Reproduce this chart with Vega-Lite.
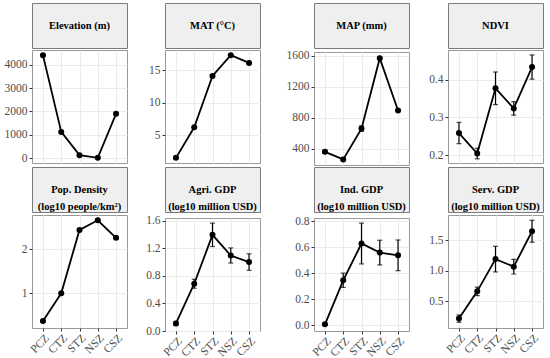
{
  "$schema": "https://vega.github.io/schema/vega-lite/v6.json",
  "padding": {"left": 3, "top": 2, "right": 0, "bottom": 0},
  "background": "white",
  "datasets": {
    "d": [
      {"var": "Elevation", "zone": "PCZ", "v": 4400, "lo": 4380, "hi": 4420},
      {"var": "Elevation", "zone": "CTZ", "v": 1130, "lo": 1110, "hi": 1150},
      {"var": "Elevation", "zone": "STZ", "v": 140, "lo": 125, "hi": 155},
      {"var": "Elevation", "zone": "NSZ", "v": 25, "lo": 15, "hi": 35},
      {"var": "Elevation", "zone": "CSZ", "v": 1900, "lo": 1880, "hi": 1920},
      {"var": "MAT", "zone": "PCZ", "v": 1.5, "lo": 1.4, "hi": 1.6},
      {"var": "MAT", "zone": "CTZ", "v": 6.2, "lo": 6.1, "hi": 6.3},
      {"var": "MAT", "zone": "STZ", "v": 14.1, "lo": 14.0, "hi": 14.2},
      {"var": "MAT", "zone": "NSZ", "v": 17.3, "lo": 17.2, "hi": 17.4},
      {"var": "MAT", "zone": "CSZ", "v": 16.1, "lo": 16.0, "hi": 16.2},
      {"var": "MAP", "zone": "PCZ", "v": 360, "lo": 340, "hi": 380},
      {"var": "MAP", "zone": "CTZ", "v": 262, "lo": 252, "hi": 272},
      {"var": "MAP", "zone": "STZ", "v": 660, "lo": 625, "hi": 695},
      {"var": "MAP", "zone": "NSZ", "v": 1570, "lo": 1555, "hi": 1585},
      {"var": "MAP", "zone": "CSZ", "v": 895, "lo": 883, "hi": 907},
      {"var": "NDVI", "zone": "PCZ", "v": 0.259, "lo": 0.231, "hi": 0.287},
      {"var": "NDVI", "zone": "CTZ", "v": 0.205, "lo": 0.191, "hi": 0.219},
      {"var": "NDVI", "zone": "STZ", "v": 0.377, "lo": 0.334, "hi": 0.42},
      {"var": "NDVI", "zone": "NSZ", "v": 0.324, "lo": 0.306, "hi": 0.342},
      {"var": "NDVI", "zone": "CSZ", "v": 0.433, "lo": 0.401, "hi": 0.465},
      {"var": "Pop", "zone": "PCZ", "v": 0.37, "lo": 0.35, "hi": 0.39},
      {"var": "Pop", "zone": "CTZ", "v": 1.0, "lo": 0.98, "hi": 1.02},
      {"var": "Pop", "zone": "STZ", "v": 2.44, "lo": 2.41, "hi": 2.47},
      {"var": "Pop", "zone": "NSZ", "v": 2.66, "lo": 2.64, "hi": 2.68},
      {"var": "Pop", "zone": "CSZ", "v": 2.26, "lo": 2.23, "hi": 2.29},
      {"var": "Agri", "zone": "PCZ", "v": 0.11, "lo": 0.08, "hi": 0.14},
      {"var": "Agri", "zone": "CTZ", "v": 0.686, "lo": 0.621, "hi": 0.751},
      {"var": "Agri", "zone": "STZ", "v": 1.396, "lo": 1.226, "hi": 1.566},
      {"var": "Agri", "zone": "NSZ", "v": 1.096, "lo": 0.986, "hi": 1.206},
      {"var": "Agri", "zone": "CSZ", "v": 1.0, "lo": 0.88, "hi": 1.12},
      {"var": "Ind", "zone": "PCZ", "v": 0.008, "lo": 0.0, "hi": 0.016},
      {"var": "Ind", "zone": "CTZ", "v": 0.347, "lo": 0.292, "hi": 0.402},
      {"var": "Ind", "zone": "STZ", "v": 0.63, "lo": 0.473, "hi": 0.787},
      {"var": "Ind", "zone": "NSZ", "v": 0.56, "lo": 0.465, "hi": 0.655},
      {"var": "Ind", "zone": "CSZ", "v": 0.539, "lo": 0.421, "hi": 0.657},
      {"var": "Serv", "zone": "PCZ", "v": 0.22, "lo": 0.16, "hi": 0.28},
      {"var": "Serv", "zone": "CTZ", "v": 0.666, "lo": 0.596, "hi": 0.736},
      {"var": "Serv", "zone": "STZ", "v": 1.194, "lo": 0.984, "hi": 1.404},
      {"var": "Serv", "zone": "NSZ", "v": 1.07, "lo": 0.95, "hi": 1.19},
      {"var": "Serv", "zone": "CSZ", "v": 1.65, "lo": 1.47, "hi": 1.83}
    ]
  },
  "columns": 4,
  "align": "each",
  "spacing": {"row": 0, "column": 17},
  "concat": [
    {"spacing": 0, "vconcat": [
      {"width": 95, "height": 45, "view": {"fill": "#efefef", "stroke": "#7a7a7a"}, "data": {"values": [{"t": "Elevation (m)"}]}, "mark": {"type": "text", "font": "Liberation Serif", "fontWeight": "bold", "fontSize": 10.5, "lineBreak": "\n", "lineHeight": 17.6, "color": "black"}, "encoding": {"text": {"field": "t"}}},
      {"width": 95, "height": 113, "view": {"stroke": "#999999"}, "data": {"name": "d"}, "transform": [{"filter": "datum.var === 'Elevation'"}],
       "encoding": {"x": {"field": "zone", "type": "ordinal", "title": null, "scale": {"type": "point", "padding": 0.6, "domain": ["PCZ", "CTZ", "STZ", "NSZ", "CSZ"]}, "axis": {"labels": false, "ticks": false, "domain": false, "grid": true, "labelPadding": 0, "tickSize": 0, "minExtent": 0, "maxExtent": 0}}},
       "layer": [
         {"mark": {"type": "rule", "color": "black", "strokeWidth": 1.2}, "encoding": {"y": {"field": "lo", "type": "quantitative", "title": null, "scale": {"domain": [-194, 4619], "nice": false, "zero": false}, "axis": {"values": [0, 1000, 2000, 3000, 4000], "tickCount": 20, "format": "d", "labelOverlap": false, "minExtent": 28, "maxExtent": 28}}, "y2": {"field": "hi"}}},
         {"mark": {"type": "tick", "color": "black", "size": 5, "thickness": 1.2}, "encoding": {"y": {"field": "lo", "type": "quantitative", "title": null}}},
         {"mark": {"type": "tick", "color": "black", "size": 5, "thickness": 1.2}, "encoding": {"y": {"field": "hi", "type": "quantitative", "title": null}}},
         {"mark": {"type": "line", "color": "black", "strokeWidth": 1.8}, "encoding": {"y": {"field": "v", "type": "quantitative", "title": null}}},
         {"mark": {"type": "point", "filled": true, "color": "black", "opacity": 1, "size": 36}, "encoding": {"y": {"field": "v", "type": "quantitative", "title": null}}}
       ]}
    ]},
    {"spacing": 0, "vconcat": [
      {"width": 95, "height": 45, "view": {"fill": "#efefef", "stroke": "#7a7a7a"}, "data": {"values": [{"t": "MAT (°C)"}]}, "mark": {"type": "text", "font": "Liberation Serif", "fontWeight": "bold", "fontSize": 10.5, "lineBreak": "\n", "lineHeight": 17.6, "color": "black"}, "encoding": {"text": {"field": "t"}}},
      {"width": 95, "height": 113, "view": {"stroke": "#999999"}, "data": {"name": "d"}, "transform": [{"filter": "datum.var === 'MAT'"}],
       "encoding": {"x": {"field": "zone", "type": "ordinal", "title": null, "scale": {"type": "point", "padding": 0.6, "domain": ["PCZ", "CTZ", "STZ", "NSZ", "CSZ"]}, "axis": {"labels": false, "ticks": false, "domain": false, "grid": true, "labelPadding": 0, "tickSize": 0, "minExtent": 0, "maxExtent": 0}}},
       "layer": [
         {"mark": {"type": "rule", "color": "black", "strokeWidth": 1.2}, "encoding": {"y": {"field": "lo", "type": "quantitative", "title": null, "scale": {"domain": [0.71, 18.09], "nice": false, "zero": false}, "axis": {"values": [5, 10, 15], "tickCount": 20, "format": "d", "labelOverlap": false, "minExtent": 19, "maxExtent": 19}}, "y2": {"field": "hi"}}},
         {"mark": {"type": "tick", "color": "black", "size": 5, "thickness": 1.2}, "encoding": {"y": {"field": "lo", "type": "quantitative", "title": null}}},
         {"mark": {"type": "tick", "color": "black", "size": 5, "thickness": 1.2}, "encoding": {"y": {"field": "hi", "type": "quantitative", "title": null}}},
         {"mark": {"type": "line", "color": "black", "strokeWidth": 1.8}, "encoding": {"y": {"field": "v", "type": "quantitative", "title": null}}},
         {"mark": {"type": "point", "filled": true, "color": "black", "opacity": 1, "size": 36}, "encoding": {"y": {"field": "v", "type": "quantitative", "title": null}}}
       ]}
    ]},
    {"spacing": 0, "vconcat": [
      {"width": 95, "height": 45, "view": {"fill": "#efefef", "stroke": "#7a7a7a"}, "data": {"values": [{"t": "MAP (mm)"}]}, "mark": {"type": "text", "font": "Liberation Serif", "fontWeight": "bold", "fontSize": 10.5, "lineBreak": "\n", "lineHeight": 17.6, "color": "black"}, "encoding": {"text": {"field": "t"}}},
      {"width": 95, "height": 113, "view": {"stroke": "#999999"}, "data": {"name": "d"}, "transform": [{"filter": "datum.var === 'MAP'"}],
       "encoding": {"x": {"field": "zone", "type": "ordinal", "title": null, "scale": {"type": "point", "padding": 0.6, "domain": ["PCZ", "CTZ", "STZ", "NSZ", "CSZ"]}, "axis": {"labels": false, "ticks": false, "domain": false, "grid": true, "labelPadding": 0, "tickSize": 0, "minExtent": 0, "maxExtent": 0}}},
       "layer": [
         {"mark": {"type": "rule", "color": "black", "strokeWidth": 1.2}, "encoding": {"y": {"field": "lo", "type": "quantitative", "title": null, "scale": {"domain": [190, 1650], "nice": false, "zero": false}, "axis": {"values": [400, 800, 1200, 1600], "tickCount": 20, "format": "d", "labelOverlap": false, "minExtent": 35, "maxExtent": 35}}, "y2": {"field": "hi"}}},
         {"mark": {"type": "tick", "color": "black", "size": 5, "thickness": 1.2}, "encoding": {"y": {"field": "lo", "type": "quantitative", "title": null}}},
         {"mark": {"type": "tick", "color": "black", "size": 5, "thickness": 1.2}, "encoding": {"y": {"field": "hi", "type": "quantitative", "title": null}}},
         {"mark": {"type": "line", "color": "black", "strokeWidth": 1.8}, "encoding": {"y": {"field": "v", "type": "quantitative", "title": null}}},
         {"mark": {"type": "point", "filled": true, "color": "black", "opacity": 1, "size": 36}, "encoding": {"y": {"field": "v", "type": "quantitative", "title": null}}}
       ]}
    ]},
    {"spacing": 0, "vconcat": [
      {"width": 95, "height": 45, "view": {"fill": "#efefef", "stroke": "#7a7a7a"}, "data": {"values": [{"t": "NDVI"}]}, "mark": {"type": "text", "font": "Liberation Serif", "fontWeight": "bold", "fontSize": 10.5, "lineBreak": "\n", "lineHeight": 17.6, "color": "black"}, "encoding": {"text": {"field": "t"}}},
      {"width": 95, "height": 113, "view": {"stroke": "#999999"}, "data": {"name": "d"}, "transform": [{"filter": "datum.var === 'NDVI'"}],
       "encoding": {"x": {"field": "zone", "type": "ordinal", "title": null, "scale": {"type": "point", "padding": 0.6, "domain": ["PCZ", "CTZ", "STZ", "NSZ", "CSZ"]}, "axis": {"labels": false, "ticks": false, "domain": false, "grid": true, "labelPadding": 0, "tickSize": 0, "minExtent": 0, "maxExtent": 0}}},
       "layer": [
         {"mark": {"type": "rule", "color": "black", "strokeWidth": 1.2}, "encoding": {"y": {"field": "lo", "type": "quantitative", "title": null, "scale": {"domain": [0.18, 0.478], "nice": false, "zero": false}, "axis": {"values": [0.2, 0.3, 0.4], "tickCount": 20, "format": ".1f", "labelOverlap": false, "minExtent": 20, "maxExtent": 20}}, "y2": {"field": "hi"}}},
         {"mark": {"type": "tick", "color": "black", "size": 5, "thickness": 1.2}, "encoding": {"y": {"field": "lo", "type": "quantitative", "title": null}}},
         {"mark": {"type": "tick", "color": "black", "size": 5, "thickness": 1.2}, "encoding": {"y": {"field": "hi", "type": "quantitative", "title": null}}},
         {"mark": {"type": "line", "color": "black", "strokeWidth": 1.8}, "encoding": {"y": {"field": "v", "type": "quantitative", "title": null}}},
         {"mark": {"type": "point", "filled": true, "color": "black", "opacity": 1, "size": 36}, "encoding": {"y": {"field": "v", "type": "quantitative", "title": null}}}
       ]}
    ]},
    {"spacing": 0, "vconcat": [
      {"width": 95, "height": 45, "view": {"fill": "#efefef", "stroke": "#7a7a7a"}, "data": {"values": [{"t": "Pop. Density\n(log10 people/km²)"}]}, "mark": {"type": "text", "font": "Liberation Serif", "fontWeight": "bold", "fontSize": 10.5, "lineBreak": "\n", "lineHeight": 17.6, "color": "black"}, "encoding": {"text": {"field": "t"}}},
      {"width": 95, "height": 113, "view": {"stroke": "#999999"}, "data": {"name": "d"}, "transform": [{"filter": "datum.var === 'Pop'"}],
       "encoding": {"x": {"field": "zone", "type": "ordinal", "title": null, "scale": {"type": "point", "padding": 0.6, "domain": ["PCZ", "CTZ", "STZ", "NSZ", "CSZ"]}, "axis": {"labelAngle": -45, "labelPadding": 1, "domain": false, "grid": true}}},
       "layer": [
         {"mark": {"type": "rule", "color": "black", "strokeWidth": 1.2}, "encoding": {"y": {"field": "lo", "type": "quantitative", "title": null, "scale": {"domain": [0.21, 2.78], "nice": false, "zero": false}, "axis": {"values": [1, 2], "tickCount": 20, "format": "d", "labelOverlap": false, "minExtent": 28, "maxExtent": 28}}, "y2": {"field": "hi"}}},
         {"mark": {"type": "tick", "color": "black", "size": 5, "thickness": 1.2}, "encoding": {"y": {"field": "lo", "type": "quantitative", "title": null}}},
         {"mark": {"type": "tick", "color": "black", "size": 5, "thickness": 1.2}, "encoding": {"y": {"field": "hi", "type": "quantitative", "title": null}}},
         {"mark": {"type": "line", "color": "black", "strokeWidth": 1.8}, "encoding": {"y": {"field": "v", "type": "quantitative", "title": null}}},
         {"mark": {"type": "point", "filled": true, "color": "black", "opacity": 1, "size": 36}, "encoding": {"y": {"field": "v", "type": "quantitative", "title": null}}}
       ]}
    ]},
    {"spacing": 0, "vconcat": [
      {"width": 95, "height": 45, "view": {"fill": "#efefef", "stroke": "#7a7a7a"}, "data": {"values": [{"t": "Agri. GDP\n(log10 million USD)"}]}, "mark": {"type": "text", "font": "Liberation Serif", "fontWeight": "bold", "fontSize": 10.5, "lineBreak": "\n", "lineHeight": 17.6, "color": "black"}, "encoding": {"text": {"field": "t"}}},
      {"width": 95, "height": 113, "view": {"stroke": "#999999"}, "data": {"name": "d"}, "transform": [{"filter": "datum.var === 'Agri'"}],
       "encoding": {"x": {"field": "zone", "type": "ordinal", "title": null, "scale": {"type": "point", "padding": 0.6, "domain": ["PCZ", "CTZ", "STZ", "NSZ", "CSZ"]}, "axis": {"labelAngle": -45, "labelPadding": 1, "domain": false, "grid": true}}},
       "layer": [
         {"mark": {"type": "rule", "color": "black", "strokeWidth": 1.2}, "encoding": {"y": {"field": "lo", "type": "quantitative", "title": null, "scale": {"domain": [0.0, 1.64], "nice": false, "zero": false}, "axis": {"values": [0, 0.4, 0.8, 1.2, 1.6], "tickCount": 20, "format": ".1f", "labelOverlap": false, "minExtent": 19, "maxExtent": 19}}, "y2": {"field": "hi"}}},
         {"mark": {"type": "tick", "color": "black", "size": 5, "thickness": 1.2}, "encoding": {"y": {"field": "lo", "type": "quantitative", "title": null}}},
         {"mark": {"type": "tick", "color": "black", "size": 5, "thickness": 1.2}, "encoding": {"y": {"field": "hi", "type": "quantitative", "title": null}}},
         {"mark": {"type": "line", "color": "black", "strokeWidth": 1.8}, "encoding": {"y": {"field": "v", "type": "quantitative", "title": null}}},
         {"mark": {"type": "point", "filled": true, "color": "black", "opacity": 1, "size": 36}, "encoding": {"y": {"field": "v", "type": "quantitative", "title": null}}}
       ]}
    ]},
    {"spacing": 0, "vconcat": [
      {"width": 95, "height": 45, "view": {"fill": "#efefef", "stroke": "#7a7a7a"}, "data": {"values": [{"t": "Ind. GDP\n(log10 million USD)"}]}, "mark": {"type": "text", "font": "Liberation Serif", "fontWeight": "bold", "fontSize": 10.5, "lineBreak": "\n", "lineHeight": 17.6, "color": "black"}, "encoding": {"text": {"field": "t"}}},
      {"width": 95, "height": 113, "view": {"stroke": "#999999"}, "data": {"name": "d"}, "transform": [{"filter": "datum.var === 'Ind'"}],
       "encoding": {"x": {"field": "zone", "type": "ordinal", "title": null, "scale": {"type": "point", "padding": 0.6, "domain": ["PCZ", "CTZ", "STZ", "NSZ", "CSZ"]}, "axis": {"labelAngle": -45, "labelPadding": 1, "domain": false, "grid": true}}},
       "layer": [
         {"mark": {"type": "rule", "color": "black", "strokeWidth": 1.2}, "encoding": {"y": {"field": "lo", "type": "quantitative", "title": null, "scale": {"domain": [-0.043, 0.826], "nice": false, "zero": false}, "axis": {"values": [0, 0.2, 0.4, 0.6, 0.8], "tickCount": 20, "format": ".1f", "labelOverlap": false, "minExtent": 35, "maxExtent": 35}}, "y2": {"field": "hi"}}},
         {"mark": {"type": "tick", "color": "black", "size": 5, "thickness": 1.2}, "encoding": {"y": {"field": "lo", "type": "quantitative", "title": null}}},
         {"mark": {"type": "tick", "color": "black", "size": 5, "thickness": 1.2}, "encoding": {"y": {"field": "hi", "type": "quantitative", "title": null}}},
         {"mark": {"type": "line", "color": "black", "strokeWidth": 1.8}, "encoding": {"y": {"field": "v", "type": "quantitative", "title": null}}},
         {"mark": {"type": "point", "filled": true, "color": "black", "opacity": 1, "size": 36}, "encoding": {"y": {"field": "v", "type": "quantitative", "title": null}}}
       ]}
    ]},
    {"spacing": 0, "vconcat": [
      {"width": 95, "height": 45, "view": {"fill": "#efefef", "stroke": "#7a7a7a"}, "data": {"values": [{"t": "Serv. GDP\n(log10 million USD)"}]}, "mark": {"type": "text", "font": "Liberation Serif", "fontWeight": "bold", "fontSize": 10.5, "lineBreak": "\n", "lineHeight": 17.6, "color": "black"}, "encoding": {"text": {"field": "t"}}},
      {"width": 95, "height": 113, "view": {"stroke": "#999999"}, "data": {"name": "d"}, "transform": [{"filter": "datum.var === 'Serv'"}],
       "encoding": {"x": {"field": "zone", "type": "ordinal", "title": null, "scale": {"type": "point", "padding": 0.6, "domain": ["PCZ", "CTZ", "STZ", "NSZ", "CSZ"]}, "axis": {"labelAngle": -45, "labelPadding": 1, "domain": false, "grid": true}}},
       "layer": [
         {"mark": {"type": "rule", "color": "black", "strokeWidth": 1.2}, "encoding": {"y": {"field": "lo", "type": "quantitative", "title": null, "scale": {"domain": [0.066, 1.916], "nice": false, "zero": false}, "axis": {"values": [0.5, 1.0, 1.5], "tickCount": 20, "format": ".1f", "labelOverlap": false, "minExtent": 20, "maxExtent": 20}}, "y2": {"field": "hi"}}},
         {"mark": {"type": "tick", "color": "black", "size": 5, "thickness": 1.2}, "encoding": {"y": {"field": "lo", "type": "quantitative", "title": null}}},
         {"mark": {"type": "tick", "color": "black", "size": 5, "thickness": 1.2}, "encoding": {"y": {"field": "hi", "type": "quantitative", "title": null}}},
         {"mark": {"type": "line", "color": "black", "strokeWidth": 1.8}, "encoding": {"y": {"field": "v", "type": "quantitative", "title": null}}},
         {"mark": {"type": "point", "filled": true, "color": "black", "opacity": 1, "size": 36}, "encoding": {"y": {"field": "v", "type": "quantitative", "title": null}}}
       ]}
    ]}
  ],
  "config": {
    "font": "Liberation Serif",
    "axis": {
      "gridColor": "#ebebeb",
      "gridWidth": 1,
      "domain": false,
      "tickColor": "#333333",
      "tickSize": 3,
      "labelFont": "Liberation Serif",
      "labelFontSize": 11.5,
      "labelColor": "#4d4d4d",
      "labelPadding": 2,
      "labelOverlap": false,
      "labelBound": false,
      "labelFlush": false,
      "title": null
    }
  }
}
